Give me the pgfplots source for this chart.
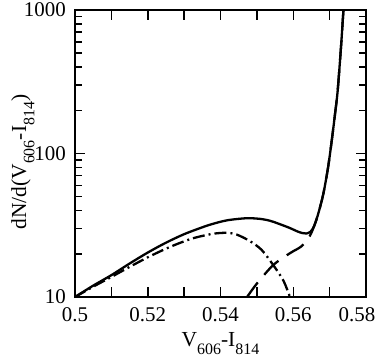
\documentclass[border=0pt]{standalone}
\usepackage{fontspec}
\setmainfont{Liberation Serif}
\usepackage{pgfplots}
\pgfplotsset{compat=1.18}
\newcommand\sub[1]{\raisebox{-0.38em}{\fontsize{16}{16}\selectfont #1}}
\begin{document}
\fontsize{21}{25}\selectfont
\begin{tikzpicture}[x=1bp,y=1bp]
\useasboundingbox (0,0) rectangle (382,360);
\begin{axis}[
  at={(75bp,63bp)}, anchor=south west,
  scale only axis, width=291bp, height=287bp,
  xmin=0.5, xmax=0.58, ymin=10, ymax=1000,
  ymode=log,
  axis line style={line width=1.8bp},
  tick style={line width=1.5bp, black},
  tick align=inside,
  xtick={0.5,0.51,0.52,0.53,0.54,0.55,0.56,0.57,0.58},
  xticklabels={0.5,,0.52,,0.54,,0.56,,\hspace*{-18bp}0.58},
  ytick={10,100,1000},
  yticklabels={10,100,1000},
  minor y tick num=8,
  major tick length=10bp,
  minor tick length=7bp,
  /pgf/number format/assume math mode=true,
  ticklabel style={font=\fontsize{21}{25}\selectfont},
  xticklabel style={yshift=-3bp},
  yticklabel style={xshift=-2bp},
  xlabel={V\sub{606}-I\sub{814}},
  ylabel={dN/d(V\sub{606}-I\sub{814})},
  label style={font=\fontsize{21.5}{26}\selectfont},
  xlabel style={at={(axis description cs:0.5,-0.173)}, anchor=base},
  ylabel style={at={(axis description cs:-0.168,0.47)}, anchor=base},
  clip=true,
]
% solid
\addplot[black, line width=2.3bp, smooth] coordinates {
(0.500,10) (0.505,12.0) (0.510,14.2) (0.515,17.1) (0.520,20.4) (0.525,23.9)
(0.530,27.4) (0.535,30.6) (0.538,32.4) (0.542,34.3) (0.5472,35.4) (0.551,35.0)
(0.5536,34.0) (0.556,32.4) (0.559,30.3) (0.5612,28.6) (0.5625,27.9) (0.5636,27.7)
(0.5648,28.6) (0.5658,31.5) (0.5669,38.3) (0.5683,52.8) (0.5696,80.9) (0.5706,124)
(0.5715,190) (0.5722,272) (0.5731,540) (0.5738,1000) (0.5741,1300)
};
% dash-dot
\addplot[black, line width=2.3bp, smooth, dash pattern=on 12bp off 4bp on 2bp off 4bp] coordinates {
(0.500,10) (0.505,11.8) (0.510,13.8) (0.515,16.2) (0.520,18.9) (0.525,21.7)
(0.529,23.9) (0.533,25.9) (0.538,27.6) (0.5417,28.0) (0.5445,27.2) (0.5481,24.5)
(0.5513,21.3) (0.5545,16.7) (0.5573,13.0) (0.5591,10) (0.5595,9.5)
};
% dashed
\addplot[black, line width=2.3bp, smooth, dash pattern=on 20bp off 10bp] coordinates {
(0.5470,9.8) (0.5473,10) (0.550,12.4) (0.5545,16.7) (0.5591,20.2) (0.5623,22.6)
(0.5645,26.5) (0.5658,31.5) (0.5669,38.3) (0.5683,52.8) (0.5696,80.9) (0.5706,124)
(0.5715,190) (0.5722,272) (0.5731,540) (0.5738,1000) (0.5741,1300)
};
\end{axis}
\end{tikzpicture}
\end{document}
